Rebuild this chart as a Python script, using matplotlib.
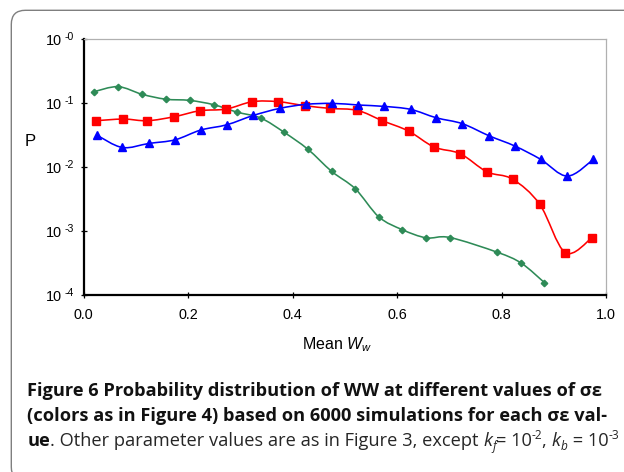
import matplotlib
matplotlib.use('Agg')
import matplotlib.pyplot as plt
import numpy as np
from matplotlib.path import Path
from matplotlib.patches import PathPatch, FancyBboxPatch
import matplotlib.transforms as mtransforms
from matplotlib.ticker import NullLocator

# ---------------- data ----------------
green_x = [0.020, 0.066, 0.112, 0.157, 0.203, 0.249, 0.293, 0.339, 0.384, 0.429,
           0.475, 0.520, 0.565, 0.610, 0.656, 0.701, 0.792, 0.838, 0.882]
green_p = [0.152, 0.182, 0.138, 0.116, 0.111, 0.095, 0.073, 0.0588, 0.0351, 0.0192,
           0.0086, 0.00461, 0.00168, 0.00106, 0.00079, 0.00080, 0.00047, 0.000317, 0.000158]

red_x = [0.023, 0.076, 0.122, 0.173, 0.223, 0.273, 0.323, 0.372, 0.424, 0.472,
         0.524, 0.572, 0.622, 0.671, 0.721, 0.772, 0.821, 0.873, 0.922, 0.973]
red_p = [0.0534, 0.0567, 0.0534, 0.0617, 0.0766, 0.0813, 0.106, 0.106, 0.0917, 0.0832,
         0.0775, 0.0534, 0.0368, 0.0207, 0.0163, 0.0085, 0.00653, 0.00265, 0.000465, 0.00079]

blue_x = [0.026, 0.074, 0.125, 0.175, 0.224, 0.274, 0.325, 0.375, 0.425, 0.476,
          0.526, 0.575, 0.626, 0.675, 0.725, 0.776, 0.826, 0.875, 0.926, 0.976]
blue_p = [0.0315, 0.0204, 0.0236, 0.0269, 0.0382, 0.0462, 0.0647, 0.0832, 0.0962, 0.0997,
          0.0940, 0.0895, 0.0803, 0.0594, 0.0480, 0.0311, 0.0214, 0.0133, 0.00728, 0.0133]

xticks = [0.0, 0.2, 0.4, 0.6, 0.8, 1.0]
xtick_labels = ["0.0", "0.2", "0.4", "0.6", "0.8", "1.0"]
yticks = [1e0, 1e-1, 1e-2, 1e-3, 1e-4]
ytick_exps = ["-0", "-1", "-2", "-3", "-4"]

caption_line1 = "Figure 6 Probability distribution of WW at different values of σε"
caption_line2 = "(colors as in Figure 4) based on 6000 simulations for each σε val-"

# ---------------- style ----------------
plt.rcParams['font.family'] = ['Liberation Sans', 'DejaVu Sans']
plt.rcParams['mathtext.fontset'] = 'custom'
plt.rcParams['mathtext.rm'] = 'Liberation Sans'
plt.rcParams['mathtext.it'] = 'Liberation Sans:italic'

W, H = 624, 472
fig = plt.figure(figsize=(W / 100, H / 100), dpi=100)
fig.patch.set_facecolor('white')

ax_l, ax_r, ax_t, ax_b = 83.7, 606.0, 39.3, 295.3
ax_wpx = ax_r - ax_l
ax = fig.add_axes([ax_l / W, 1 - ax_b / H, ax_wpx / W, (ax_b - ax_t) / H])
ax.set_yscale('log')
ax.set_xlim(0, 1)
ax.set_ylim(1e-4, 1)


def smooth_path(xs, ps):
    x = np.asarray(xs, float)
    ly = np.log10(np.asarray(ps, float))
    P = np.column_stack([x, ly])
    n = len(P)
    verts = [P[0]]
    codes = [Path.MOVETO]
    for i in range(n - 1):
        p0 = P[i - 1] if i > 0 else P[i]
        p1 = P[i]
        p2 = P[i + 1]
        p3 = P[i + 2] if i + 2 < n else P[i + 1]
        c1 = p1 + (p2 - p0) / 6.0
        c2 = p2 - (p3 - p1) / 6.0
        verts += [c1, c2, p2]
        codes += [Path.CURVE4] * 3
    V = np.array(verts)
    V[:, 1] = 10 ** V[:, 1]
    return Path(V, codes)


series = [
    (green_x, green_p, '#2e8b57', 'D', 3.3),
    (red_x, red_p, '#ff0000', 's', 5.7),
    (blue_x, blue_p, '#0000ff', '^', 6.0),
]
for z, (xs, ps, c, m, ms) in enumerate(series):
    patch = PathPatch(smooth_path(xs, ps), facecolor='none', edgecolor=c,
                      lw=1.15, zorder=2 + z)
    ax.add_patch(patch)
    ax.plot(xs, ps, linestyle='none', marker=m, markersize=ms, color=c,
            markeredgecolor=c, zorder=2.5 + z)

# spines
for s in ['left', 'bottom']:
    ax.spines[s].set_color('black')
    ax.spines[s].set_linewidth(1.6)
for s in ['top', 'right']:
    ax.spines[s].set_color('#b0b0b0')
    ax.spines[s].set_linewidth(0.9)

ax.set_xticks(xticks)
ax.set_xticklabels(xtick_labels)
ax.set_yticks(yticks)
ax.set_yticklabels([])
ax.yaxis.set_minor_locator(NullLocator())
ax.xaxis.set_minor_locator(NullLocator())
ax.tick_params(direction='inout', length=4, width=0.9, color='black')
ax.tick_params(axis='x', labelsize=10.4, pad=7.5)

# y tick labels 10^-k
trans = mtransforms.blended_transform_factory(ax.transAxes, ax.transData)
off_main = mtransforms.ScaledTranslation(0, -2.0 / 100, fig.dpi_scale_trans)
off_sup = mtransforms.ScaledTranslation(0, 1.8 / 100, fig.dpi_scale_trans)
for v, e in zip(yticks, ytick_exps):
    ax.text(-(ax_l - 61.7) / ax_wpx, v, "10", transform=trans + off_main,
            ha='right', va='center', fontsize=10.4, clip_on=False)
    ax.text(-(ax_l - 65.0) / ax_wpx, v, e, transform=trans + off_sup,
            ha='left', va='center', fontsize=7.6, clip_on=False)

ax.set_xlabel(r"Mean $W_w$", fontsize=11.5)
ax.xaxis.set_label_coords((337 - ax_l) / ax_wpx, -(345 - ax_b) / (ax_b - ax_t))
ax.xaxis.label.set_verticalalignment('center')
ax.set_ylabel("P", fontsize=12, rotation=0, ha='center', va='center')
ax.yaxis.set_label_coords(-(ax_l - 30) / ax_wpx, (ax_b - 141) / (ax_b - ax_t))

# outer rounded box
box = FancyBboxPatch((11.3, -9), 700, (H - 10.3) + 9,
                     boxstyle="round,pad=0,rounding_size=14",
                     transform=mtransforms.IdentityTransform(),
                     facecolor='none', edgecolor='#7f7f7f', lw=1.0)
fig.add_artist(box)

# caption
renderer = fig.canvas.get_renderer()
cap_family = ['Open Sans', 'DejaVu Sans']
BOLD = 'bold'
REG = 'normal'


def twidth(s, **kw):
    t1 = fig.text(0, 0, s + "|", **kw)
    w1 = t1.get_window_extent(renderer).width
    t1.remove()
    t2 = fig.text(0, 0, "|", **kw)
    w2 = t2.get_window_extent(renderer).width
    t2.remove()
    return w1 - w2


w_ref = twidth(caption_line1, family=cap_family, weight=BOLD, fontsize=10)
fs = 10 * 579.0 / w_ref

X0 = 27.3
CB = '#111111'
CR = '#262626'
line3 = [
    ("ue", BOLD, 'normal', 1.0, 0, CB),
    (". Other parameter values are as in Figure 3, except ", REG, 'normal', 1.0, 0, CR),
    ("k", REG, 'italic', 1.0, 0, CR),
    ("f", REG, 'italic', 0.65, -0.22, CR),
    ("= 10", REG, 'normal', 1.0, 0, CR),
    ("-2", REG, 'normal', 0.65, 0.36, CR),
    (", ", REG, 'normal', 1.0, 0, CR),
    ("k", REG, 'italic', 1.0, 0, CR),
    ("b", REG, 'italic', 0.65, -0.22, CR),
    (" = 10", REG, 'normal', 1.0, 0, CR),
    ("-3", REG, 'normal', 0.65, 0.36, CR),
]


def runs_width(runs, size):
    return sum(twidth(s, family=cap_family, weight=w, style=st, fontsize=size * sc)
               for s, w, st, sc, dy, col in runs)


def draw_runs(x0, base_from_top, runs, size):
    x = x0
    y = H - base_from_top
    for s, weight, style, scale, dy, col in runs:
        kw = dict(family=cap_family, weight=weight, style=style, fontsize=size * scale)
        fig.text(x / W, (y + dy * size * 100 / 72) / H, s, va='baseline', ha='left',
                 color=col, **kw)
        x += twidth(s, **kw)


fs3 = min(fs, fs * 589.0 / runs_width(line3, fs))
draw_runs(X0, 396.5, [(caption_line1, BOLD, 'normal', 1.0, 0, CB)], fs)
draw_runs(X0, 421.0, [(caption_line2, BOLD, 'normal', 1.0, 0, CB)], fs)
draw_runs(X0, 445.5, line3, fs3)

fig.savefig('out.png', dpi=100, facecolor='white')
